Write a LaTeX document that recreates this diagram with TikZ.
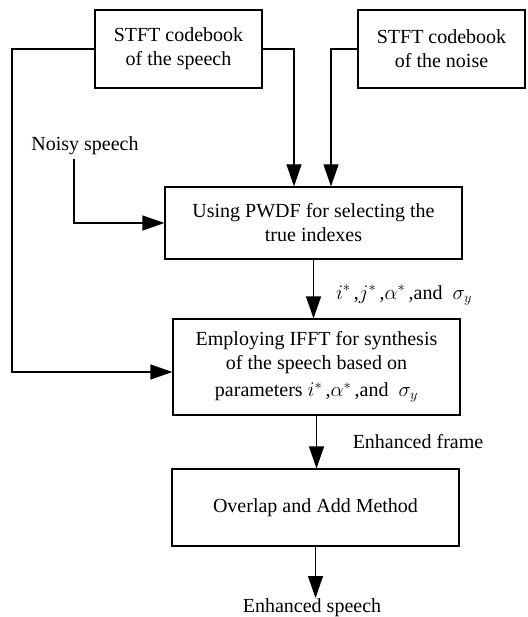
\documentclass[tikz,border=0pt]{standalone}
\usepackage{fontspec}
\setmainfont{Liberation Serif}
\usetikzlibrary{arrows.meta}
\begin{document}
\begin{tikzpicture}[x=1pt,y=-1pt,
  box/.style={draw,line width=1.2pt,inner sep=0pt,align=center,font=\fontsize{20}{24}\selectfont},
  lbl/.style={inner sep=0pt,font=\fontsize{20}{24}\selectfont},
  conn/.style={line width=1.2pt},
  arr/.style={conn,-{Triangle[length=22pt,width=15pt]}}]
\useasboundingbox (0,0) rectangle (527,617);
\node[box,minimum width=167pt,minimum height=78pt] (sp) at (178.5,49) {STFT codebook\\of the speech};
\node[box,minimum width=167pt,minimum height=78pt] (no) at (441.5,49) {STFT codebook\\of the noise};
\node[box,minimum width=297pt,minimum height=72pt] (pw) at (313.5,223) {Using PWDF for selecting the\\true indexes};
\node[box,minimum width=287pt,minimum height=96pt] (if) at (316.5,367) {Employing IFFT for synthesis\\of the speech based on\\[3pt]parameters $i^{*}$\,,$\alpha^{*}$\,,and\ \ $\sigma_{y}$};
\node[box,minimum width=287pt,minimum height=77pt] (ov) at (315.5,507.5) {Overlap and Add Method};
\node[lbl] (noisy) at (85,146) {Noisy speech};
\node[lbl,anchor=north] (es) at (312,598) {Enhanced speech};
\node[lbl] (l1) at (404,295) {$i^{*}$\,,$j^{*}$\,,$\alpha^{*}$\,,and\ \ $\sigma_{y}$};
\node[lbl] (l2) at (418,442) {Enhanced frame};
\coordinate (L) at (12,372);
\draw[arr] (sp.west) -| (L) -- (L -| if.west);
\draw[arr] (sp.east) -| ([xshift=-19.5pt]pw.north);
\draw[arr] (no.west) -| ([xshift=17.5pt]pw.north);
\draw[arr] ([xshift=-11pt,yshift=-4pt]noisy.south) |- (pw.west);
\draw[arr] (pw.south) -- (pw.south |- if.north);
\draw[arr] (if.south) -- (if.south |- ov.north);
\draw[arr] (ov.south) -- (ov.south |- es.north);
\end{tikzpicture}
\end{document}
